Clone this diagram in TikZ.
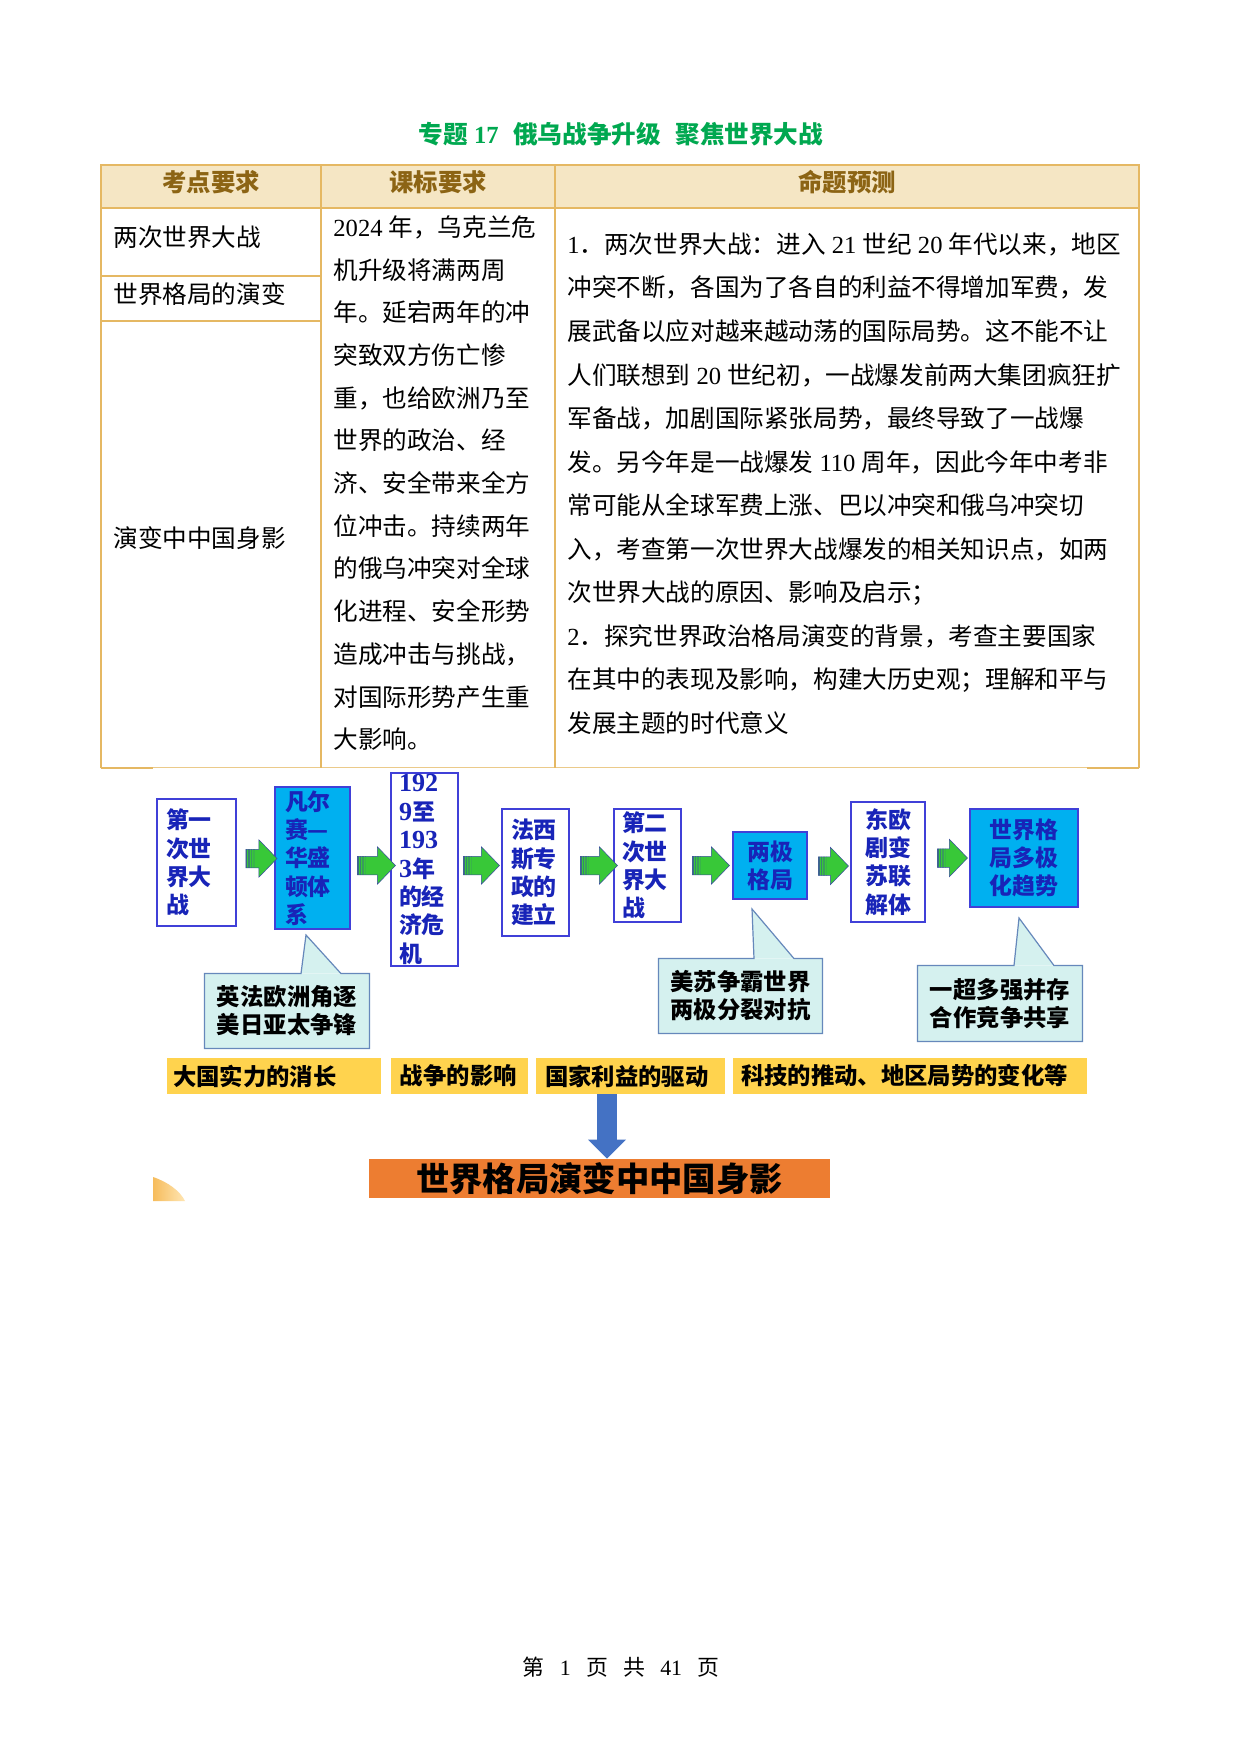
\documentclass[tikz,border=0pt]{standalone}
\usepackage{fontspec}
\setmainfont{Noto Sans CJK SC}
\newfontfamily\tnr{Liberation Serif}
\usetikzlibrary{shapes.arrows,arrows.meta}
\definecolor{tborder}{HTML}{E5B863}
\definecolor{hfill}{HTML}{F5E6C4}
\definecolor{htext}{HTML}{8C6414}
\definecolor{ttl}{HTML}{00A850}
\definecolor{bxtext}{HTML}{1824B8}
\definecolor{bxline}{HTML}{4040D8}
\definecolor{cyanfill}{HTML}{00B0F0}
\definecolor{callfill}{HTML}{D5F1EF}
\definecolor{calledge}{HTML}{6688BB}
\definecolor{arrgreen}{HTML}{38C838}
\definecolor{arrline}{HTML}{3A4AA0}
\definecolor{ylw}{HTML}{FFD34E}
\definecolor{blu}{HTML}{4472C4}
\definecolor{org}{HTML}{ED7D31}
\definecolor{curlA}{HTML}{F6BC5C}
\definecolor{curlB}{HTML}{FFE6B4}
\newcommand\dgt[1]{{\tnr\fontsize{12.5}{13.6}\selectfont #1}}
\tikzset{
  body/.style={anchor=west, inner sep=0pt, font=\fontsize{11.8}{14}\selectfont, text height=10.4pt, text depth=1.4pt},
  hdr/.style={inner sep=0pt, text=htext, font=\fontsize{11.7}{14}\selectfont\bfseries},
  tline/.style={draw=tborder, line width=2*0.4797pt},
  bx/.style={draw=bxline, line width=1.5*0.4797pt, inner ysep=0pt, align=left, text=bxtext, font=\fontsize{11}{13.6}\selectfont\bfseries},
  wbx/.style={bx, fill=white},
  cbx/.style={bx, fill=cyanfill},
  garrow/.style={single arrow, fill=arrgreen, draw=arrline, line width=0.5*0.4797pt, inner xsep=0pt, inner ysep=4.32pt,
     single arrow head extend=9.5*0.4797pt, single arrow tip angle=92,
     path picture={
       \foreach \kk/\pp in {0/75,2.5/55,5/35,7.5/15}{
         \fill[arrline!\pp!arrgreen] ([xshift=\kk*0.4797pt]path picture bounding box.south west) rectangle ([xshift=(\kk+1.5)*0.4797pt]path picture bounding box.north west);
       }
     }},
  callbox/.style={fill=callfill, inner sep=0pt, align=center, font=\fontsize{11.2}{13.5}\selectfont\bfseries},
  callline/.style={draw=calledge, line width=1.2*0.4797pt, line join=miter},
  ylab/.style={fill=ylw, inner ysep=0pt, minimum height=36*0.4797pt, align=left, font=\fontsize{11.2}{13}\selectfont\bfseries},
}
\begin{document}
\begin{tikzpicture}[x=0.4797pt, y=-0.4797pt]
\useasboundingbox (0,0) rectangle (1241,1754);
\fill[white] (0,0) rectangle (1241,1754);

% title
\node[inner sep=0pt, text=ttl, font=\fontsize{11.8}{14}\selectfont\bfseries] (title) at (621,134)
  {专题{\tnr\ 17}\hspace{7pt}俄乌战争升级\hspace{7pt}聚焦世界大战};

% table
\fill[hfill] (101,165) rectangle (1139,208);
\draw[tline] (101,768) -- (101,165) -- (1139,165) -- (1139,768);
\draw[tline] (101,768) -- (153,768);
\draw[tline] (1087,768) -- (1139,768);
\draw[draw=tborder!75, line width=1*0.4797pt] (153,767.5) -- (1087,767.5);
\draw[tline] (101,208) -- (1139,208) (321,165) -- (321,768) (555,165) -- (555,768)
  (101,276) -- (321,276) (101,321) -- (321,321);

\node[hdr] (h1) at (211,182) {考点要求};
\node[hdr] (h2) at (438,182) {课标要求};
\node[hdr] (h3) at (847,182) {命题预测};

\node[body] (r1) at (113,237) {两次世界大战};
\node[body] (r2) at (113,294) {世界格局的演变};
\node[body] (r3) at (113,538) {演变中中国身影};

\foreach \t [count=\i from 0] in {
  {{\tnr 2024 }年，乌克兰危},
  {机升级将满两周},
  {年。延宕两年的冲},
  {突致双方伤亡惨},
  {重，也给欧洲乃至},
  {世界的政治、经},
  {济、安全带来全方},
  {位冲击。持续两年},
  {的俄乌冲突对全球},
  {化进程、安全形势},
  {造成冲击与挑战，},
  {对国际形势产生重},
  {大影响。}}{
  \node[body] (kb\i) at (333,{227+\i*42.7}) {\t};
}

\foreach \t [count=\i from 0] in {
  {{\tnr 1}．两次世界大战：进入{\tnr\ 21 }世纪{\tnr\ 20 }年代以来，地区},
  {冲突不断，各国为了各自的利益不得增加军费，发},
  {展武备以应对越来越动荡的国际局势。这不能不让},
  {人们联想到{\tnr\ 20 }世纪初，一战爆发前两大集团疯狂扩},
  {军备战，加剧国际紧张局势，最终导致了一战爆},
  {发。另今年是一战爆发{\tnr\ 110 }周年，因此今年中考非},
  {常可能从全球军费上涨、巴以冲突和俄乌冲突切},
  {入，考查第一次世界大战爆发的相关知识点，如两},
  {次世界大战的原因、影响及启示；},
  {{\tnr 2}．探究世界政治格局演变的背景，考查主要国家},
  {在其中的表现及影响，构建大历史观；理解和平与},
  {发展主题的时代意义}}{
  \node[body] (mt\i) at (567,{244+\i*43.55}) {\t};
}

% flow boxes
\node[wbx, text width=29.26pt, inner xsep=4.32pt, minimum height=127*0.4797pt] (b1) at (196.5,862.5) {第一\\次世\\界大\\战};
\node[cbx, text width=26.38pt, inner xsep=4.8pt, minimum height=142*0.4797pt] (b2) at (312.5,858) {凡尔\\赛—\\华盛\\顿体\\系};
\node[wbx, text width=24.46pt, inner xsep=3.84pt, minimum height=193*0.4797pt] (b3) at (424.5,869.5) {\dgt{192}\\\dgt{9}至\\\dgt{193}\\\dgt{3}年\\的经\\济危\\机};
\node[wbx, text width=23.5pt, inner xsep=4.32pt, minimum height=127*0.4797pt] (b4) at (535.5,872.5) {法西\\斯专\\政的\\建立};
\node[wbx, text width=24.46pt, inner xsep=3.84pt, minimum height=113*0.4797pt] (b5) at (647.5,865.5) {第二\\次世\\界大\\战};
\node[cbx, align=center, minimum width=74*0.4797pt, minimum height=67*0.4797pt] (b6) at (770,865.5) {两极\\格局};
\node[wbx, align=center, minimum width=74*0.4797pt, minimum height=120*0.4797pt] (b7) at (888,862) {东欧\\剧变\\苏联\\解体};
\node[cbx, align=center, minimum width=108*0.4797pt, minimum height=98*0.4797pt] (b8) at (1024,858) {世界格\\局多极\\化趋势};

% green arrows
\node[garrow, minimum height=31*0.4797pt] (a1) at (257,858.5) {};
\node[garrow, minimum height=38*0.4797pt] (a2) at (372,865.5) {};
\node[garrow, minimum height=36*0.4797pt] (a3) at (477,865.5) {};
\node[garrow, minimum height=37*0.4797pt] (a4) at (594.5,865.5) {};
\node[garrow, minimum height=37*0.4797pt] (a5) at (706.5,865.5) {};
\node[garrow, minimum height=30*0.4797pt] (a6) at (829,866) {};
\node[garrow, minimum height=30*0.4797pt] (a7) at (948,858) {};

% callouts
\node[callbox, minimum width=164*0.4797pt, minimum height=74*0.4797pt] (k1) at (287,1011) {英法欧洲角逐\\美日亚太争锋};
\coordinate (k1t) at (306,935);
\fill[callfill] (k1.north -| 301,0) -- (k1t) -- (k1.north -| 341,0) -- cycle;
\draw[callline] (k1.north -| 301,0) -- (k1t) -- (k1.north -| 341,0) -- (k1.north east) -- (k1.south east) -- (k1.south west) -- (k1.north west) -- cycle;

\node[callbox, minimum width=163*0.4797pt, minimum height=74*0.4797pt] (k2) at (740.5,996) {美苏争霸世界\\两极分裂对抗};
\coordinate (k2t) at (752,909);
\fill[callfill] (k2.north -| 754,0) -- (k2t) -- (k2.north -| 794,0) -- cycle;
\draw[callline] (k2.north -| 754,0) -- (k2t) -- (k2.north -| 794,0) -- (k2.north east) -- (k2.south east) -- (k2.south west) -- (k2.north west) -- cycle;

\node[callbox, minimum width=164*0.4797pt, minimum height=75*0.4797pt] (k3) at (1000,1003.5) {一超多强并存\\合作竞争共享};
\coordinate (k3t) at (1019,918);
\fill[callfill] (k3.north -| 1014,0) -- (k3t) -- (k3.north -| 1054,0) -- cycle;
\draw[callline] (k3.north -| 1014,0) -- (k3t) -- (k3.north -| 1054,0) -- (k3.north east) -- (k3.south east) -- (k3.south west) -- (k3.north west) -- cycle;

% yellow labels
\node[ylab, text width=96.9pt, inner xsep=2.88pt] (y1) at (274,1076) {大国实力的消长};
\node[ylab, text width=57.1pt, inner xsep=4.32pt] (y2) at (459.5,1076) {战争的影响};
\node[ylab, text width=82.0pt, inner xsep=4.32pt] (y3) at (630.5,1076) {国家利益的驱动};
\node[ylab, text width=162.1pt, inner xsep=3.84pt] (y4) at (910,1076) {科技的推动、地区局势的变化等};

% result
\node[fill=org, minimum width=461*0.4797pt, minimum height=39*0.4797pt, inner sep=0pt, font=\fontsize{16}{18}\selectfont\bfseries] (res) at (599.5,1178.5) {世界格局演变中中国身影};
\coordinate (bxc) at (607,0);
\draw[blu, line width=9.59pt, -{Triangle[length=9.11pt, width=18.23pt, line width=0pt]}] (y3.south -| bxc) -- (res.north -| bxc);

% page curl
\shade[left color=curlA, right color=curlB] (153,1177) .. controls (168,1182) and (180,1191) .. (185,1201) -- (153,1201) -- cycle;

% footer
\node[inner sep=0pt, font=\fontsize{10.5}{12}\selectfont] (pg) at (621,1667)
  {第\hspace{7.3pt}{\tnr 1}\hspace{7.3pt}页\hspace{7.3pt}共\hspace{7.3pt}{\tnr 41}\hspace{7.3pt}页};
\end{tikzpicture}
\end{document}
